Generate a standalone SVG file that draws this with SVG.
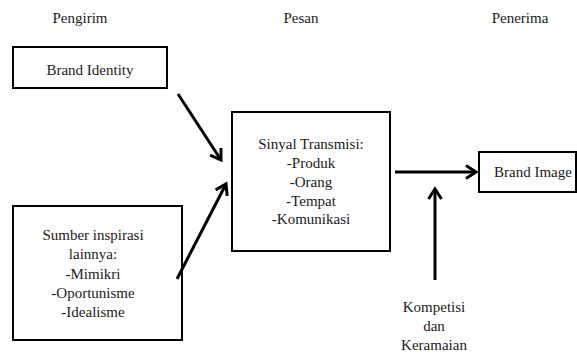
<svg xmlns="http://www.w3.org/2000/svg" width="577" height="354" viewBox="0 0 577 354">
<style>
text{font-family:"Liberation Serif","Times New Roman",serif;font-size:15px;fill:#1a1a1a;text-anchor:middle}
.box{fill:#fff;stroke:#000;stroke-width:2}
.con{stroke:#000;stroke-width:3;fill:none;marker-end:url(#ah)}
</style>
<defs>
<marker id="ah" markerUnits="userSpaceOnUse" viewBox="-14 -10 18 20" refX="0" refY="0" markerWidth="18" markerHeight="20" orient="auto">
<path d="M-10,-6.5 L0,0 L-10,6.5" fill="none" stroke="#000" stroke-width="3" stroke-linejoin="miter"/>
</marker>
</defs>
<rect width="577" height="354" fill="#fff"/>
<g id="headers">
<text x="80" y="23">Pengirim</text>
<text x="301" y="23">Pesan</text>
<text x="520" y="23">Penerima</text>
</g>
<g id="brand-identity">
<rect class="box" x="13" y="47" width="154" height="41"/>
<text x="90" y="75">Brand Identity</text>
</g>
<g id="sumber">
<rect class="box" x="13" y="206" width="169" height="134"/>
<text x="93" y="240">Sumber inspirasi</text>
<text x="93" y="259">lainnya:</text>
<text x="93" y="279">-Mimikri</text>
<text x="93" y="298">-Oportunisme</text>
<text x="93" y="317">-Idealisme</text>
</g>
<g id="sinyal">
<rect class="box" x="232" y="112" width="158" height="139"/>
<text x="311" y="149">Sinyal Transmisi:</text>
<text x="311" y="168">-Produk</text>
<text x="311" y="187">-Orang</text>
<text x="311" y="206">-Tempat</text>
<text x="311" y="224">-Komunikasi</text>
</g>
<g id="brand-image">
<rect class="box" x="479" y="152" width="97" height="40"/>
<text x="533" y="177">Brand Image</text>
</g>
<g id="kompetisi">
<text x="434" y="312">Kompetisi</text>
<text x="434" y="331">dan</text>
<text x="434" y="350">Keramaian</text>
</g>
<g id="connectors">
<line class="con" x1="178" y1="94" x2="221" y2="160"/>
<line class="con" x1="177" y1="279" x2="226" y2="184"/>
<line class="con" x1="395" y1="172" x2="476" y2="172"/>
<line class="con" x1="435" y1="280" x2="435" y2="189"/>
</g>
</svg>
